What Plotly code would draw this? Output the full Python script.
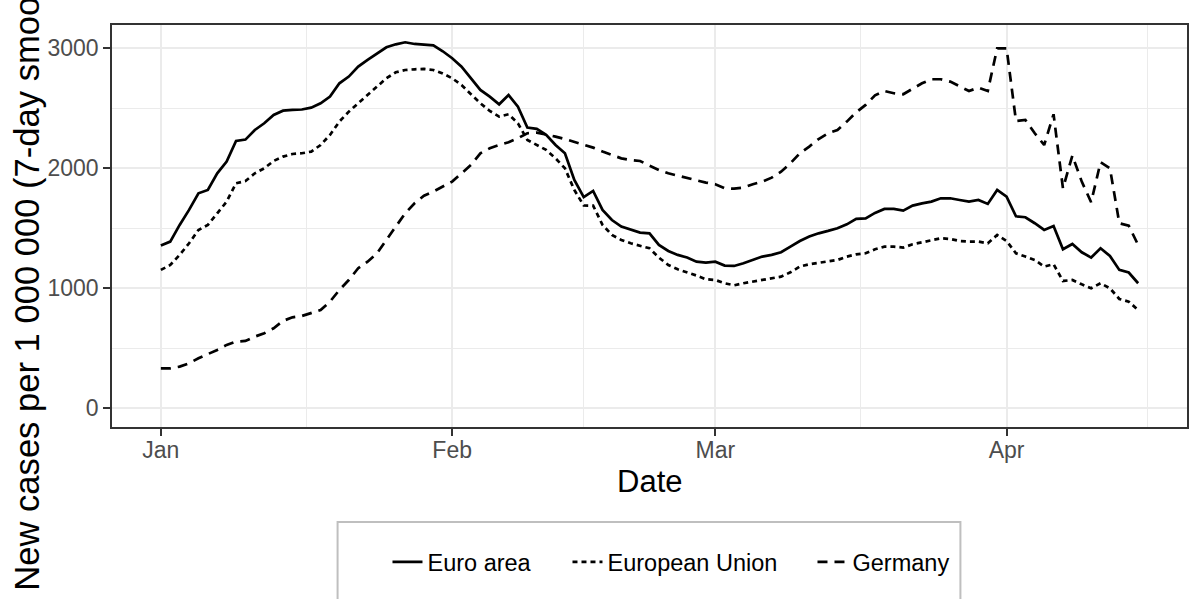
import pandas as pd
import plotly.graph_objects as go

start_date = "2022-01-01"
series_names = ["Euro area", "European Union", "Germany"]

euro_area = [1356, 1389, 1528, 1653, 1792, 1819, 1958, 2056, 2228, 2239,
             2319, 2375, 2444, 2480, 2486, 2490, 2505, 2542, 2597, 2708,
             2764, 2847, 2903, 2958, 3008, 3033, 3050, 3036, 3028, 3025,
             2975, 2917, 2847, 2750, 2653, 2597, 2533, 2611, 2514, 2339,
             2328, 2278, 2194, 2125, 1903, 1760, 1811, 1653, 1569, 1514,
             1486, 1464, 1458, 1361, 1311, 1278, 1256, 1222, 1214, 1222,
             1189, 1186, 1208, 1236, 1264, 1278, 1300, 1347, 1394, 1431,
             1458, 1478, 1500, 1533, 1578, 1583, 1628, 1661, 1661, 1647,
             1689, 1708, 1722, 1750, 1750, 1736, 1722, 1736, 1703, 1819,
             1764, 1600, 1592, 1542, 1486, 1519, 1325, 1369, 1300, 1256,
             1333, 1269, 1153, 1131, 1042]

european_union = [1153, 1194, 1278, 1375, 1486, 1528, 1625, 1722, 1875, 1894,
                  1958, 2000, 2061, 2097, 2119, 2125, 2139, 2194, 2278, 2389,
                  2472, 2542, 2611, 2681, 2750, 2800, 2819, 2825, 2828, 2819,
                  2790, 2750, 2694, 2617, 2542, 2478, 2431, 2450, 2375, 2236,
                  2194, 2153, 2083, 2000, 1819, 1690, 1689, 1528, 1444, 1403,
                  1375, 1356, 1333, 1256, 1194, 1158, 1133, 1106, 1075, 1069,
                  1042, 1025, 1042, 1056, 1069, 1078, 1097, 1133, 1181, 1200,
                  1214, 1222, 1236, 1264, 1283, 1292, 1325, 1347, 1347, 1339,
                  1367, 1383, 1397, 1417, 1411, 1394, 1389, 1389, 1375, 1444,
                  1394, 1292, 1264, 1236, 1181, 1200, 1061, 1069, 1033, 1000,
                  1042, 1000, 911, 889, 819]

germany = [333, 333, 347, 375, 417, 450, 486, 528, 556, 561,
           597, 625, 667, 728, 758, 769, 792, 819, 889, 986,
           1069, 1167, 1222, 1292, 1403, 1514, 1625, 1708, 1772, 1806,
           1850, 1889, 1958, 2028, 2125, 2167, 2194, 2217, 2250, 2292,
           2297, 2283, 2264, 2244, 2222, 2197, 2172, 2139, 2111, 2083,
           2069, 2061, 2022, 1986, 1958, 1939, 1917, 1897, 1881, 1867,
           1833, 1830, 1839, 1867, 1889, 1922, 1972, 2042, 2125, 2181,
           2244, 2292, 2319, 2389, 2467, 2528, 2608, 2644, 2625, 2617,
           2661, 2708, 2742, 2742, 2722, 2681, 2644, 2672, 2644, 3000,
           3000, 2394, 2403, 2292, 2194, 2450, 1833, 2106, 1889, 1717,
           2050, 2000, 1542, 1522, 1361]

x_tick_dates = ["2022-01-01", "2022-02-01", "2022-03-01", "2022-04-01"]
x_tick_labels = ["Jan", "Feb", "Mar", "Apr"]
x_minor_dates = ["2022-01-16 12:00", "2022-02-15", "2022-03-16 12:00", "2022-04-16"]
y_tick_vals = [0, 1000, 2000, 3000]
y_minor_vals = [500, 1500, 2500]

dates = pd.date_range(start_date, periods=len(euro_area), freq="D")

FONT = "Liberation Sans, Arial, sans-serif"
styles = {
    "Euro area": dict(dash="solid", lw=2.7, legendwidth=135),
    "European Union": dict(dash="5px,4px", lw=2.7, legendwidth=200),
    "Germany": dict(dash="10px,7px", lw=2.7, legendwidth=100),
}

fig = go.Figure()
for name, vals in zip(series_names, [euro_area, european_union, germany]):
    st = styles[name]
    fig.add_trace(go.Scatter(
        x=dates, y=vals, mode="lines", name=name,
        line=dict(color="black", width=st["lw"], dash=st["dash"]),
        legendwidth=st["legendwidth"],
    ))

x0 = dates[0] - pd.Timedelta(days=5.2)
x1 = dates[-1] + pd.Timedelta(days=5.2)

grid = "#EBEBEB"
fig.update_layout(
    width=1195, height=599,
    margin=dict(l=112, r=6, t=25, b=172),
    paper_bgcolor="white", plot_bgcolor="white",
    font=dict(family=FONT, color="black"),
    showlegend=True,
    legend=dict(
        orientation="h", x=(388 - 112) / 1077, xanchor="left",
        y=(427 - 562) / 402, yanchor="middle",
        font=dict(size=23.5, family=FONT, color="black"),
        bgcolor="rgba(0,0,0,0)", borderwidth=0,
    ),
    xaxis=dict(
        type="date", range=[x0, x1],
        tickvals=x_tick_dates, ticktext=x_tick_labels,
        tickfont=dict(size=23, color="#4D4D4D", family=FONT),
        ticks="outside", ticklen=7, tickwidth=1.5, tickcolor="#333333",
        ticklabelstandoff=-5,
        showgrid=True, gridcolor=grid, gridwidth=2,
        minor=dict(tickvals=x_minor_dates, showgrid=True, gridcolor=grid, gridwidth=1, ticks=""),
        showline=True, linecolor="#333333", linewidth=1.5, mirror=True,
        zeroline=False,
    ),
    yaxis=dict(
        range=[-156, 3194],
        tickvals=y_tick_vals, ticktext=[str(v) for v in y_tick_vals],
        tickfont=dict(size=23, color="#4D4D4D", family=FONT),
        ticks="outside", ticklen=7, tickwidth=1.5, tickcolor="#333333",
        showgrid=True, gridcolor=grid, gridwidth=2,
        minor=dict(tickvals=y_minor_vals, showgrid=True, gridcolor=grid, gridwidth=1, ticks=""),
        showline=True, linecolor="#333333", linewidth=1.5, mirror=True,
        zeroline=False,
    ),
    shapes=[dict(
        type="rect", xref="paper", yref="paper",
        x0=(338 - 112) / 1077, x1=(962 - 112) / 1077,
        y0=(427 - 610) / 402, y1=(427 - 522) / 402,
        line=dict(color="#BFBFBF", width=2), fillcolor="rgba(0,0,0,0)", layer="below",
    )],
    annotations=[
        dict(text="Date", xref="paper", yref="paper", x=0.5, y=(427 - 481) / 402,
             xanchor="center", yanchor="middle", showarrow=False,
             font=dict(size=31, family=FONT, color="black")),
        dict(text="New cases per 1 000 000 (7-day smoothed)", xref="paper", yref="paper",
             x=(5 - 112) / 1077, y=(427 - 593) / 402, xanchor="left", yanchor="bottom",
             textangle=-90, showarrow=False,
             font=dict(size=34.6, family=FONT, color="black")),
    ],
)

fig.write_html(
    "out.html",
    config={"displayModeBar": False},
    post_script="document.body.style.margin='0';document.body.style.padding='0';",
)
